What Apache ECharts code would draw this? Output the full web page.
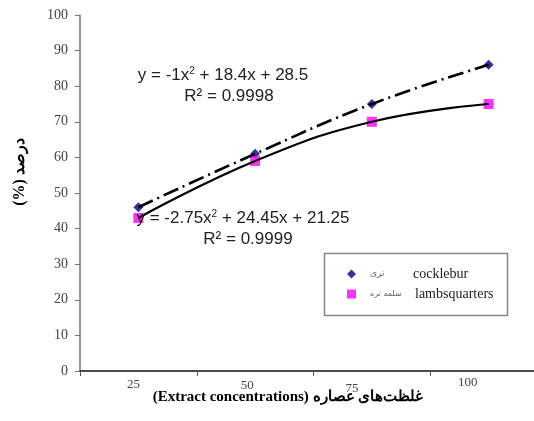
<!DOCTYPE html>
<html>
<head>
<meta charset="utf-8">
<script src="https://cdn.jsdelivr.net/npm/echarts@6/dist/echarts.min.js"></script>
<style>html,body{margin:0;padding:0;background:#fff}#c{width:534px;height:421px}</style>
</head>
<body>
<div id="c"></div>
<script>
var categories = ['25', '50', '75', '100'];
var cocklebur = [46, 61, 75, 86];
var lambsquarters = [43, 59, 70, 75];
var yTicks = [0, 100, 10];

var chart = echarts.init(document.getElementById('c'), null, {renderer: 'canvas'});
var serif = '"Liberation Serif", "Times New Roman", serif';
var sans = '"Liberation Sans", Arial, sans-serif';

var lab = {fontFamily: serif, fontSize: 13, color: '#444'};
var labelRich = {
  l0: Object.assign({padding: [2, 10, 0, 0]}, lab),
  l1: Object.assign({padding: [3, 16, 0, 0]}, lab),
  l2: Object.assign({padding: [6, 40, 0, 0]}, lab),
  l3: Object.assign({padding: [0, 42, 0, 0]}, lab)
};
var supStyle = {fontSize: 10, verticalAlign: 'top', padding: [0, 0, 7, 0], fontFamily: sans, fill: '#222'};

chart.setOption({
  backgroundColor: '#fff',
  animation: false,
  grid: {left: 80, top: 15, width: 467, height: 356, containLabel: false, outerBoundsMode: 'none'},
  xAxis: {
    type: 'category',
    data: categories,
    boundaryGap: true,
    axisLine: {lineStyle: {color: '#111', width: 1.5}},
    axisTick: {show: true, length: 5, lineStyle: {color: '#555'}},
    axisLabel: {
      margin: 5,
      formatter: function (v, i) { return '{l' + i + '|' + v + '}'; },
      rich: labelRich
    },
    splitLine: {show: false}
  },
  yAxis: {
    type: 'value',
    min: yTicks[0], max: yTicks[1], interval: yTicks[2],
    axisLine: {show: true, lineStyle: {color: '#777', width: 1.5}},
    axisTick: {show: true, length: 5, lineStyle: {color: '#777'}},
    axisLabel: {margin: 12, fontFamily: serif, fontSize: 14, color: '#444'},
    splitLine: {show: false}
  },
  legend: {
    orient: 'vertical',
    left: 342, top: 262,
    itemWidth: 9, itemHeight: 9, itemGap: 6,
    data: [
      {name: 'cocklebur', icon: 'diamond'},
      {name: 'lambsquarters', icon: 'rect'}
    ],
    formatter: function (n) {
      return n === 'cocklebur' ? '{fa|تری}{en|cocklebur}' : '{fa2|سلمه تره}{en|lambsquarters}';
    },
    textStyle: {
      rich: {
        fa: {fontFamily: '"DejaVu Sans", sans-serif', fontSize: 9, color: '#666', width: 43, padding: [0, 0, 0, 9]},
        fa2: {fontFamily: '"DejaVu Sans", sans-serif', fontSize: 8, color: '#666', width: 45, padding: [0, 0, 0, 9]},
        en: {fontFamily: serif, fontSize: 14, color: '#222'}
      }
    }
  },
  series: [
    {
      name: 'cocklebur-trend', type: 'line', data: cocklebur, smooth: 0.45,
      showSymbol: false, symbol: 'none', z: 5, silent: true,
      lineStyle: {color: '#000', width: 2.6, type: [16, 5, 2, 5]}
    },
    {
      name: 'lambsquarters-trend', type: 'line', data: lambsquarters, smooth: 0.45,
      showSymbol: false, symbol: 'none', z: 5, silent: true,
      lineStyle: {color: '#000', width: 2.2}
    },
    {
      name: 'cocklebur', type: 'scatter', data: cocklebur, symbol: 'diamond', symbolSize: 10,
      itemStyle: {color: '#000080'}, z: 3
    },
    {
      name: 'lambsquarters', type: 'scatter', data: lambsquarters, symbol: 'rect', symbolSize: 10,
      itemStyle: {color: '#ff00ff'}, z: 3
    }
  ],
  graphic: [
    {type: 'rect', left: 322, top: 251, z: 0,
      shape: {width: 183, height: 62},
      style: {fill: 'none', stroke: '#888', lineWidth: 1.5}},
    {type: 'text', x: 223, y: 75, z: 10,
      style: {text: 'y = -1x{s|2} + 18.4x + 28.5', rich: {s: supStyle},
        font: '17px ' + sans, fill: '#222', align: 'center', verticalAlign: 'middle'}},
    {type: 'text', x: 229, y: 96, z: 10,
      style: {text: 'R² = 0.9998', font: '17px ' + sans, fill: '#222', align: 'center', verticalAlign: 'middle'}},
    {type: 'text', x: 243, y: 218, z: 10,
      style: {text: 'y = -2.75x{s|2} + 24.45x + 21.25', rich: {s: supStyle},
        font: '17px ' + sans, fill: '#222', align: 'center', verticalAlign: 'middle'}},
    {type: 'text', x: 248, y: 239, z: 10,
      style: {text: 'R² = 0.9999', font: '17px ' + sans, fill: '#222', align: 'center', verticalAlign: 'middle'}},
    {type: 'text', x: 20, y: 172, rotation: Math.PI / 2, z: 10,
      style: {text: '(%) درصد', font: 'bold 16px ' + serif, fill: '#000', align: 'center', verticalAlign: 'middle'}},
    {type: 'text', x: 288, y: 397, z: 10,
      style: {text: '(Extract concentrations) غلظت‌های عصاره', font: 'bold 15px ' + serif, fill: '#000', align: 'center', verticalAlign: 'middle'}}
  ]
});
</script>
</body>
</html>
